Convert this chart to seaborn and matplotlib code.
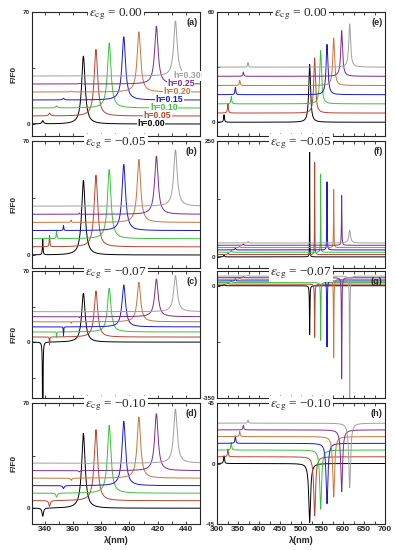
# spectra F/F0 vs wavelength, 8 panels (4 strain values x 2 ranges)
import numpy as np
import pandas as pd
import matplotlib
matplotlib.use("Agg")
import matplotlib.pyplot as plt
import seaborn as sns

# curve labels, colours and vertical offsets
h_labels = ["h=0.00", "h=0.05", "h=0.10", "h=0.15", "h=0.20", "h=0.25", "h=0.30"]
colors = ["#000000", "#b5452f", "#3fbf3f", "#1a1acc", "#c8763a", "#7b2d8e", "#a0a0a0"]
offsets = [0, 5, 10, 15, 20, 25, 30]

# resonance positions (nm)
left_peak_nm = [367.4, 376.3, 385.7, 396.0, 406.7, 419.1, 432.6]
left_small_nm = [338.6, 343.4, 348.4, 353.3, 358.7, 364.5, 371.0]
right_peak_nm = [520.6, 532.5, 546.8, 561.9, 577.8, 596.8, 615.9]
right_small_nm = [316.7, 326.0, 334.0, 343.7, 354.0, 362.7, 373.8]

# peak heights above each baseline, per panel
peak_a = [42.4, 41.6, 40.7, 39.5, 37.6, 36.1, 34.4]
small_a = [2.0, 1.7, 1.3, 1.0, 0.5, 0.3, 0.2]
peak_b = [45.9, 44.0, 42.5, 40.6, 38.7, 35.7, 34.5]
small_b = [9.7, 6.8, 4.9, 3.0, 1.5, 0.8, 0.4]
peak_c = [48.0, 45.3, 43.0, 41.3, 38.9, 37.2, 35.5]
small_c = [-150.0, -8.0, -5.5, -9.0, -1.5, -0.8, -0.4]
peak_d = [49.7, 47.3, 45.2, 42.8, 40.7, 37.9, 35.8]
small_d = [-5.5, -3.8, -2.7, -2.0, -1.5, -0.8, -0.4]

peak_e = [31.5, 30.0, 29.0, 27.4, 25.9, 24.9, 23.5]
small_e = [4.0, 5.0, 4.0, 4.0, 2.8, 2.3, 2.5]
peak_f = [227.0, 199.0, 169.0, 147.0, 125.5, 108.0, 27.6]
small_f = [4.0, 4.0, 4.0, 4.0, 3.0, 3.0, 3.0]
peak_g = [-153.0, -166.0, -180.0, -206.0, -244.0, -315.0, -420.0]
small_g = [4.0, 5.0, 6.0, 7.0, 5.0, 4.0, 3.0]
peak_h = [-44.0, -44.0, -44.0, -45.0, -45.0, -46.0, -48.0]
small_h = [5.7, 5.7, 5.7, 5.5, 4.0, 3.5, 2.2]

# line widths (half width, nm)
width_f = [0.3, 0.4, 0.4, 0.5, 0.5, 0.6, 2.5]

wl_left = np.linspace(331, 450, 8000)
wl_right = np.linspace(300, 700, 8000)


def lorentz(wl, c, a, w):
    return a / (1 + ((wl - c) / w) ** 2)


def build(wl, centres, heights, widths, s_centres, s_heights, s_width):
    widths = np.broadcast_to(widths, (7,))
    parts = []
    for i, lab in enumerate(h_labels):
        y = offsets[i] + lorentz(wl, centres[i], heights[i], widths[i])
        y = y + lorentz(wl, s_centres[i], s_heights[i], s_width)
        parts.append(pd.DataFrame({"wl": wl, "F": y, "h": lab}))
    return pd.concat(parts, ignore_index=True)


sns.set_style("ticks")
plt.rcParams["font.family"] = ["Liberation Sans", "DejaVu Sans"]
plt.rcParams["font.weight"] = "normal"
plt.rcParams["mathtext.fontset"] = "stix"

fig = plt.figure(figsize=(3.96, 5.5), dpi=100)
W, H = 396.0, 550.0
rows_px = [(12, 136), (141, 268), (271, 398), (403, 524)]
cols_px = [(32, 200), (217, 385)]

eps = ["0.00", "\u22120.05", "\u22120.07", "\u22120.10"]

panels = [
    # col, row, letter, data, ylim, yticks, yticklabels
    (0, 0, "(a)", build(wl_left, left_peak_nm, peak_a, 1.5, left_small_nm, small_a, 0.7),
     (-7.5, 70), [0, 35, 70], ["0", "", "70"]),
    (0, 1, "(b)", build(wl_left, left_peak_nm, peak_b, 1.5, left_small_nm, small_b, 0.25),
     (-8, 70), [0, 35, 70], ["0", "", "70"]),
    (0, 2, "(c)", build(wl_left, left_peak_nm, peak_c, 1.5, left_small_nm, small_c, 0.15),
     (-55, 70), [-35, 0, 35, 70], ["", "0", "", "70"]),
    (0, 3, "(d)", build(wl_left, left_peak_nm, peak_d, 1.5, left_small_nm, small_d, 0.6),
     (-10.5, 70), [0, 35, 70], ["0", "", "70"]),
    (1, 0, "(e)", build(wl_right, right_peak_nm, peak_e, 2.6, right_small_nm, small_e, 1.2),
     (-7.5, 60), [0, 30, 60], ["0", "", "60"]),
    (1, 1, "(f)", build(wl_right, right_peak_nm, peak_f, width_f, right_small_nm, small_f, 1.2),
     (-24, 250), [0, 125, 250], ["0", "", "250"]),
    (1, 2, "(g)", build(wl_right, right_peak_nm, peak_g, 0.6, right_small_nm, small_g, 1.2),
     (-350, 46), [-350, -175, 0], ["-350", "", "0"]),
    (1, 3, "(h)", build(wl_right, right_peak_nm, peak_h, 2.6, right_small_nm, small_h, 1.2),
     (-45, 45), [-45, 0, 45], ["-45", "0", "45"]),
]

for col, row, letter, df, ylim, yt, ytl in panels:
    x0, x1 = cols_px[col]
    t, b = rows_px[row]
    ax = fig.add_axes([x0 / W, 1 - b / H, (x1 - x0) / W, (b - t) / H])
    sns.lineplot(data=df, x="wl", y="F", hue="h", palette=colors, estimator=None,
                 sort=False, legend=False, lw=0.7, ax=ax)
    ax.set_ylim(*ylim)
    ax.set_yticks(yt)
    ax.set_yticklabels(ytl, fontsize=4.5, fontweight="bold")
    if col == 0:
        ax.set_xlim(331, 450)
        ax.set_xticks(np.arange(340, 441, 10))
        labs = [str(v) if v % 20 == 0 else "" for v in range(340, 441, 10)]
    else:
        ax.set_xlim(300, 700)
        ax.set_xticks(np.arange(300, 701, 25))
        labs = [str(v) if v % 50 == 0 else "" for v in range(300, 701, 25)]
    if row == 3:
        ax.set_xticklabels(labs, fontsize=6, fontweight="bold")
        ax.set_xlabel("\u03bb(nm)", fontsize=6.5, fontweight="bold", labelpad=2)
    else:
        ax.set_xticklabels([])
        ax.set_xlabel("")
    if col == 0:
        ax.set_ylabel("F/F0", fontsize=6, fontweight="bold", labelpad=4)
    else:
        ax.set_ylabel("")
    ax.tick_params(direction="in", top=True, right=False, length=2.5, width=0.6, pad=1.5)
    for s in ax.spines.values():
        s.set_linewidth(0.8)
    ax.text(0.5, 1 - 4.0 / (b - t), r"$\varepsilon_{\rm cg}$ = " + eps[row],
            transform=ax.transAxes, ha="center", va="baseline", fontsize=9.5,
            family=["Liberation Serif", "DejaVu Serif"], fontweight="normal",
            bbox=dict(fc="white", ec="none", pad=0.8), zorder=5, clip_on=False)
    ax.text(0.985, 0.95, letter, transform=ax.transAxes, ha="right", va="top",
            fontsize=6.5, fontweight="bold")

    # curve labels in panel (a): white patches first, coloured text on top
    if letter == "(a)":
        label_x = [415.2, 420.0, 424.3, 428.3, 433.7, 436.7, 440.7]
        for i, lab in enumerate(h_labels):
            ax.text(label_x[i], offsets[i], lab, color="white", fontsize=6.3,
                    fontweight="bold", ha="center", va="center", clip_on=False,
                    bbox=dict(fc="white", ec="none", pad=0.3), zorder=4)
            ax.text(label_x[i], offsets[i], lab, color=colors[i], fontsize=6.3,
                    fontweight="bold", ha="center", va="center", clip_on=False,
                    zorder=6)

fig.savefig("out.png", dpi=100)
